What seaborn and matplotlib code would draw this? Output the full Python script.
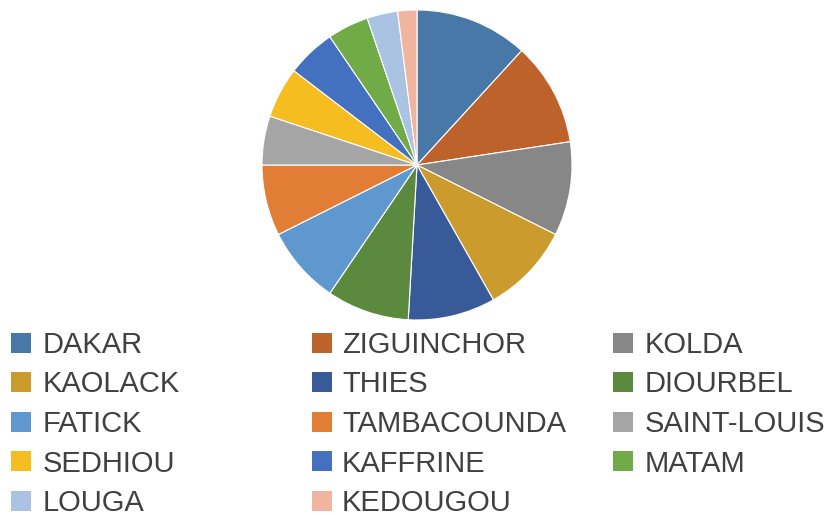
import matplotlib
matplotlib.use("Agg")
import matplotlib.pyplot as plt
from matplotlib.patches import Rectangle
import seaborn as sns

# ── data (shares, in %) ───────────────────────────────────────────────────────
regions = ["DAKAR", "ZIGUINCHOR", "KOLDA", "KAOLACK", "THIES", "DIOURBEL",
           "FATICK", "TAMBACOUNDA", "SAINT-LOUIS", "SEDHIOU", "KAFFRINE",
           "MATAM", "LOUGA", "KEDOUGOU"]
shares = [11.8, 10.8, 9.8, 9.4, 9.1, 8.6, 8.1, 7.4, 5.1, 5.3, 5.1, 4.3, 3.2, 2.0]
colors = ["#4878A8", "#BE622C", "#878787", "#CB9B2E", "#385A98", "#5B8A3E",
          "#5E98CE", "#E27D36", "#A5A5A5", "#F5BD1F", "#4470C0", "#70AB48",
          "#ABC3E3", "#F1B49F"]

sns.set_theme(style="white")
plt.rcParams["font.family"] = ["Liberation Sans", "DejaVu Sans"]

W, H = 834, 515
fig = plt.figure(figsize=(W / 100, H / 100), dpi=100)

# pie: centre (417, 165) px, radius 155 px
cx, cy, r = 417, 165, 155
ax = fig.add_axes([(cx - r) / W, 1 - (cy + r) / H, 2 * r / W, 2 * r / H])
palette = sns.color_palette(colors)
ax.pie(shares, colors=palette, startangle=90, counterclock=False,
       radius=1, wedgeprops={"edgecolor": "white", "linewidth": 0.8})
ax.set_xlim(-1, 1)
ax.set_ylim(-1, 1)
ax.set_aspect("equal")
ax.axis("off")

# ── legend, 3 columns filled row by row ──────────────────────────────────────
col_box_x = [11, 312, 613]
col_txt_x = [43, 342, 645]
row_y = [342.5, 382, 421.5, 461, 500.5]
box = 20

for i, (name, c) in enumerate(zip(regions, palette)):
    row, col = divmod(i, 3)
    yc = row_y[row]
    fig.add_artist(Rectangle((col_box_x[col] / W, 1 - (yc + box / 2) / H),
                             box / W, box / H, transform=fig.transFigure,
                             facecolor=c, edgecolor="none"))
    fig.text(col_txt_x[col] / W, 1 - (yc + 10.5) / H, name,
             fontsize=21, color="#404040", ha="left", va="baseline")

fig.savefig("out.png", dpi=100)
